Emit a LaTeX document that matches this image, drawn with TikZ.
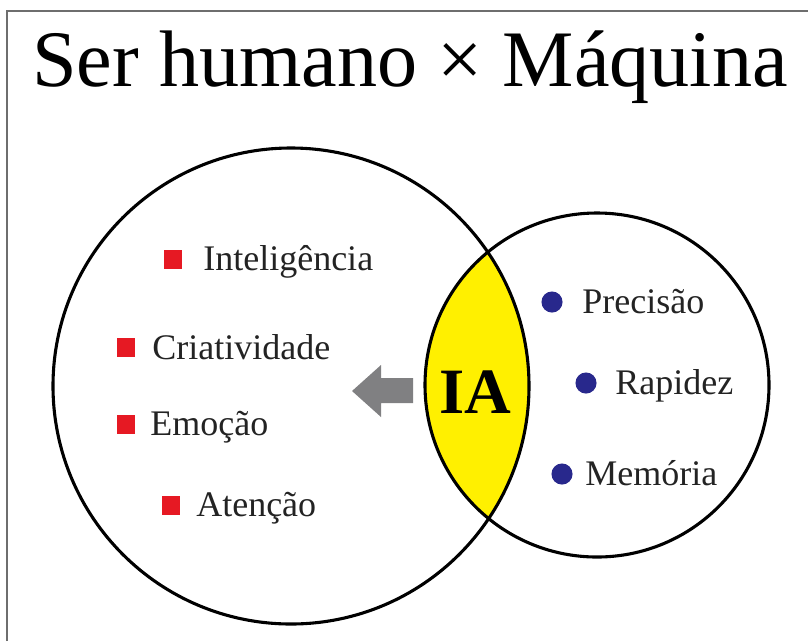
\documentclass[tikz,border=0pt]{standalone}
\usepackage{fontspec}
\setmainfont{Liberation Serif}
\definecolor{lensyellow}{RGB}{255,240,0}
\definecolor{sqred}{RGB}{230,25,35}
\definecolor{dotblue}{RGB}{40,40,140}
\definecolor{arrowgray}{RGB}{128,128,130}
\definecolor{framegray}{RGB}{110,110,110}
\definecolor{txtgray}{RGB}{35,35,35}
\tikzset{
    sq/.style={fill=sqred,minimum size=13.5pt,inner sep=0pt},
    dot/.style={circle,fill=dotblue,minimum size=15pt,inner sep=0pt},
    lbl/.style={anchor=base west,inner sep=0pt,text=txtgray,font=\fontsize{25.6}{30}\selectfont},
    ring/.style={line width=2.2pt,black}
}

\begin{document}
\begin{tikzpicture}[x=0.025cm,y=-0.025cm]
    \useasboundingbox (0,0) rectangle (808,641);
    \draw[framegray,line width=1pt] (7,641)--(7,11)--(808,11);
    \node[anchor=base,inner sep=0pt,font=\fontsize{57}{60}\selectfont] (title) at (410,86) {Ser humano × Máquina};
    % circles and the yellow lens
    \coordinate (human) at (291,386);
    \coordinate (machine) at (597,385);
    \begin{scope}
        \clip (human) circle[radius=238];
        \fill[lensyellow] (machine) circle[radius=172];
    \end{scope}
    \draw[ring] (human) circle[radius=238];
    \draw[ring] (machine) circle[radius=172];
    \node[anchor=base,inner sep=0pt,font=\fontsize{46}{50}\selectfont\bfseries] (ia) at (475,413) {IA};
    \fill[arrowgray] (413,378)--(381,378)--(381,365)--(352,391)--(381,417)--(381,403)--(413,403)--cycle;
    % human side
    \node[sq] (sint) at (173,259) {};
    \node[lbl] (tint) at (203,270) {Inteligência};
    \node[sq] (scri) at (126,347) {};
    \node[lbl] (tcri) at (152,359) {Criatividade};
    \node[sq] (semo) at (126,424) {};
    \node[lbl] (temo) at (150,435) {Emoção};
    \node[sq] (sate) at (171,505) {};
    \node[lbl] (tate) at (196,516) {Atenção};
    % machine side
    \node[dot] (dpre) at (552,302) {};
    \node[lbl] (tpre) at (582,313) {Precisão};
    \node[dot] (drap) at (586,383) {};
    \node[lbl] (trap) at (615,394) {Rapidez};
    \node[dot] (dmem) at (562,474) {};
    \node[lbl] (tmem) at (585,485) {Memória};
\end{tikzpicture}
\end{document}
